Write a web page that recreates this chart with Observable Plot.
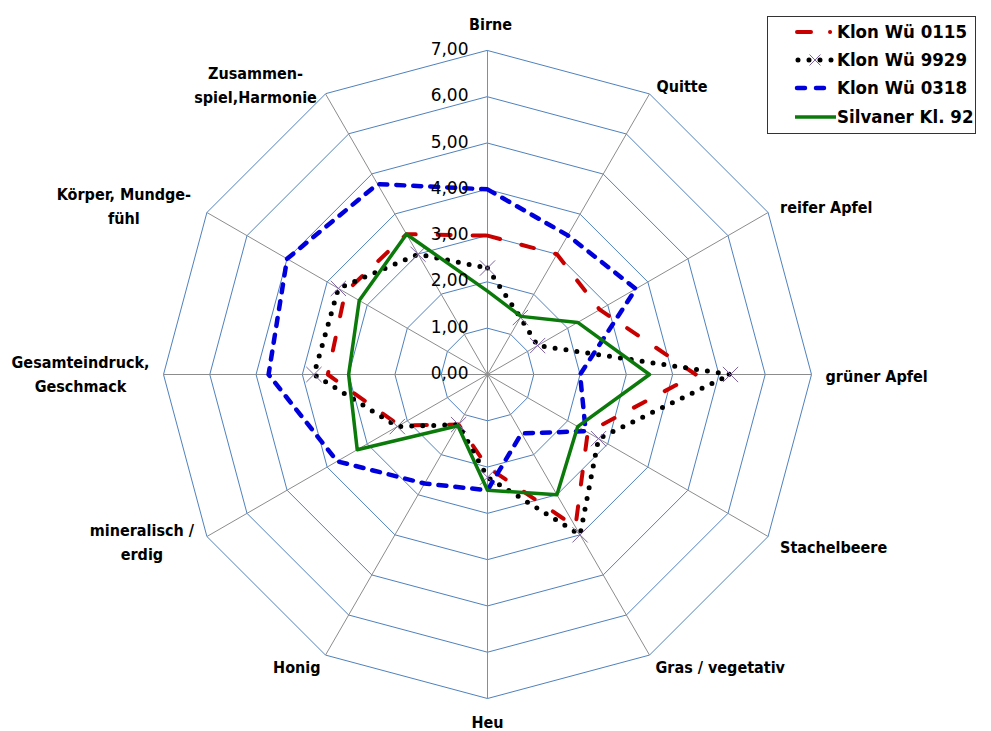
<!DOCTYPE html>
<html>
<head>
<meta charset="utf-8">
<script src="https://cdn.jsdelivr.net/npm/d3@7"></script>
<script src="https://cdn.jsdelivr.net/npm/@observablehq/plot@0.6"></script>
<style>
  html, body { margin: 0; padding: 0; background: #fff; }
  #wrap { position: relative; width: 991px; height: 731px; overflow: hidden; font-family: "DejaVu Sans Condensed", "DejaVu Sans", sans-serif; }
  #legend { position: absolute; left: 767px; top: 16px; width: 207px; height: 116px; border: 1px solid #333; background: #fff; }
  .row { position: absolute; left: 0; height: 24px; width: 100%; }
  .row svg { position: absolute; left: 24px; top: 0; }
  .row span { position: absolute; left: 69px; top: 0; font-weight: bold; font-size: 18.5px; line-height: 24px; color: #000; white-space: nowrap; }
</style>
</head>
<body>
<div id="wrap"></div>
<script>
// ---- data ----
const categories = ["Birne", "Quitte", "reifer Apfel", "grüner Apfel", "Stachelbeere", "Gras / vegetativ", "Heu", "Honig", "mineralisch / erdig", "Gesamteindruck, Geschmack", "Körper, Mundgefühl", "Zusammenspiel, Harmonie"];
const axisLabels = ["Birne", "Quitte", "reifer Apfel", "grüner Apfel", "Stachelbeere", "Gras / vegetativ", "Heu", "Honig", "mineralisch /\nerdig", "Gesamteindruck,\nGeschmack", "Körper, Mundge-\nfühl", "Zusammen-\nspiel,Harmonie"];
const tickValues = [0, 1, 2, 3, 4, 5, 6, 7];
const tickLabels = ["0,00", "1,00", "2,00", "3,00", "4,00", "5,00", "6,00", "7,00"];
const seriesNames = ["Klon Wü 0115", "Klon Wü 9929", "Klon Wü 0318", "Silvaner Kl. 92"];
const klonWu0115 = [3.0, 3.0, 2.8, 4.5, 2.5, 3.8, 2.0, 1.25, 2.2, 3.45, 3.55, 3.5];
const klonWu9929 = [2.3, 1.42, 1.25, 5.25, 2.77, 4.0, 2.22, 1.25, 2.25, 3.75, 3.72, 3.0];
const klonWu0318 = [4.0, 3.47, 3.7, 2.0, 2.45, 1.47, 2.5, 2.72, 3.75, 4.73, 5.0, 4.75];
const silvanerKl92 = [1.8, 1.45, 2.25, 3.5, 2.25, 3.0, 2.5, 1.28, 3.25, 3.0, 3.2, 3.5];

// ---- layout / style (not data) ----
const labelLayout = [
  {dx: 3, dy: -28, anchor: "middle"},
  {dx: 7, dy: -10, anchor: "start"},
  {dx: 12, dy: -7, anchor: "start"},
  {dx: 14, dy: 0, anchor: "start"},
  {dx: 12, dy: 9, anchor: "start"},
  {dx: 6, dy: 10, anchor: "start"},
  {dx: 0, dy: 22, anchor: "middle"},
  {dx: -5, dy: 10, anchor: "end"},
  {dx: -65, dy: 4, anchor: "middle"},
  {dx: -83, dy: -2, anchor: "middle"},
  {dx: -83, dy: -8, anchor: "middle"},
  {dx: -70, dy: -11, anchor: "middle"}
];
const colors = {red: "#c80000", black: "#000000", blue: "#0000dd", green: "#0b7a0b", marker: "#8064a2", ring: "#4f81bd", spoke: "#8c8c8c"};
const maxV = 7;
const n = categories.length;
const ang = i => i * 2 * Math.PI / n;
const polar = (vals, name) => vals.map((v, i) => ({series: name, cat: categories[i], x: v * Math.sin(ang(i)), y: v * Math.cos(ang(i))}));

const rings = [];
for (const t of tickValues.slice(1)) categories.forEach((c, i) => rings.push({ring: t, x: t * Math.sin(ang(i)), y: t * Math.cos(ang(i))}));
const spokes = categories.map((c, i) => ({x2: maxV * Math.sin(ang(i)), y2: maxV * Math.cos(ang(i))}));
const labelsData = axisLabels.map((l, i) => ({label: l, x: maxV * Math.sin(ang(i)), y: maxV * Math.cos(ang(i)), ...labelLayout[i]}));
const ticksData = tickValues.map((v, i) => ({x: 0, y: v, label: tickLabels[i]}));

const s1 = polar(klonWu0115, seriesNames[0]);
const s2 = polar(klonWu9929, seriesNames[1]);
const s3 = polar(klonWu0318, seriesNames[2]);
const s4 = polar(silvanerKl92, seriesNames[3]);

const labelFont = "DejaVu Sans Condensed, DejaVu Sans, sans-serif";
const tickFont = "DejaVu Sans, sans-serif";
const labelMarks = labelsData.map(d => Plot.text([d], {
  x: "x", y: "y", text: "label", textAnchor: d.anchor, dx: d.dx, dy: d.dy,
  fontFamily: labelFont, fontSize: 16, fontWeight: "bold", fill: "#000", lineHeight: 1.5
}));

const chart = Plot.plot({
  width: 991,
  height: 731,
  margin: 0,
  x: {domain: [-maxV, maxV], range: [487 - 324, 487 + 324], axis: null},
  y: {domain: [-maxV, maxV], range: [374 + 324, 374 - 324], axis: null},
  style: {background: "#fff", overflow: "visible"},
  marks: [
    Plot.line(rings, {x: "x", y: "y", z: "ring", curve: "linear-closed", stroke: colors.ring, strokeWidth: 1}),
    Plot.link(spokes, {x1: 0, y1: 0, x2: "x2", y2: "y2", stroke: colors.spoke, strokeWidth: 1}),
    Plot.line(s1, {x: "x", y: "y", curve: "linear-closed", stroke: colors.red, strokeWidth: 4, strokeDasharray: "13,22", strokeLinecap: "round"}),
    Plot.line(s2, {x: "x", y: "y", curve: "linear-closed", stroke: colors.black, strokeWidth: 5, strokeDasharray: "0,11", strokeLinecap: "round"}),
    Plot.dot(s2, {x: "x", y: "y", symbol: "times", r: 7, stroke: colors.marker, strokeWidth: 1}),
    Plot.line(s3, {x: "x", y: "y", curve: "linear-closed", stroke: colors.blue, strokeWidth: 4.5, strokeDasharray: "8,9", strokeLinecap: "round"}),
    Plot.line(s4, {x: "x", y: "y", curve: "linear-closed", stroke: colors.green, strokeWidth: 3.5}),
    Plot.text(ticksData, {x: "x", y: "y", text: "label", textAnchor: "end", dx: -19, dy: -1, fontFamily: tickFont, fontSize: 17, fill: "#000"}),
    ...labelMarks
  ]
});
const wrap = document.getElementById("wrap");
wrap.appendChild(chart);

// ---- legend ----
const legend = document.createElement("div");
legend.id = "legend";
const samples = [
  `<line x1="5" y1="12" x2="41" y2="12" stroke="${colors.red}" stroke-width="4" stroke-linecap="round" stroke-dasharray="14,19,0.1,60"/>`,
  `<line x1="6" y1="12" x2="42" y2="12" stroke="#000" stroke-width="5" stroke-linecap="round" stroke-dasharray="0,11"/>` +
    `<path d="M17.5,6.5 L28.5,17.5 M28.5,6.5 L17.5,17.5" stroke="${colors.marker}" stroke-width="1"/>`,
  `<line x1="5" y1="12" x2="36" y2="12" stroke="${colors.blue}" stroke-width="4.5" stroke-linecap="round" stroke-dasharray="8,11"/>`,
  `<line x1="3" y1="12" x2="44" y2="12" stroke="${colors.green}" stroke-width="3.5"/>`
];
const rowTops = [3, 31, 59, 88];
seriesNames.forEach((name, i) => {
  const row = document.createElement("div");
  row.className = "row";
  row.style.top = rowTops[i] + "px";
  row.innerHTML = `<svg width="46" height="24">${samples[i]}</svg><span>${name}</span>`;
  legend.appendChild(row);
});
wrap.appendChild(legend);
</script>
</body>
</html>
